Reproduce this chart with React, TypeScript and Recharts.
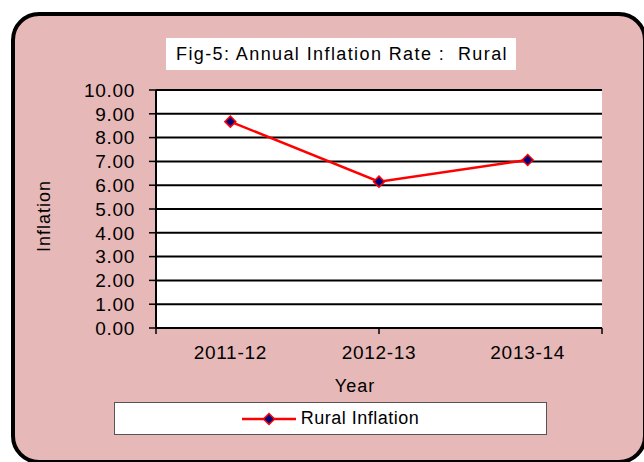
import React from 'react'
import {
  LineChart,
  Line,
  XAxis,
  YAxis,
  CartesianGrid,
  Legend,
  ReferenceLine,
} from 'recharts'

// chart values
const categories = ['2011-12', '2012-13', '2013-14']
const ruralInflation = [8.67, 6.15, 7.06]
const yTicks = [0, 1, 2, 3, 4, 5, 6, 7, 8, 9, 10]
const edgeTicks = [0, 1, 2, 3]

const data = categories.map((year, i) => ({ year, rural: ruralInflation[i] }))

const FONT = '"Liberation Sans", Arial, sans-serif'
const PINK = '#E6B8B7'

// diamond marker like excel
function Diamond(props: any) {
  const { cx, cy } = props
  if (cx == null || cy == null) return null
  const r = 5.5
  return (
    <polygon
      points={`${cx},${cy - r} ${cx + r},${cy} ${cx},${cy + r} ${cx - r},${cy}`}
      fill="#000080"
      stroke="#FF0000"
      strokeWidth={1.5}
    />
  )
}

function LegendBox() {
  return (
    <div
      style={{
        width: '100%',
        height: '100%',
        boxSizing: 'border-box',
        background: '#fff',
        border: '1px solid #555',
        display: 'flex',
        alignItems: 'center',
        justifyContent: 'center',
        fontFamily: FONT,
        fontSize: 18,
        letterSpacing: 0.5,
        color: '#000',
      }}
    >
      <svg width={54} height={14} style={{ marginRight: 5 }}>
        <line x1={0} y1={7} x2={54} y2={7} stroke="#FF0000" strokeWidth={2.5} />
        <Diamond cx={27} cy={7} />
      </svg>
      <span>Rural Inflation</span>
    </div>
  )
}

const tickStyle = { fill: '#000', fontSize: 19, fontFamily: FONT, letterSpacing: 0.7 }

export default function App() {
  return (
    <div style={{ position: 'absolute', left: 0, top: 0, width: 644, height: 462, background: '#fff', overflow: 'hidden' }}>
      <div
        style={{
          position: 'absolute',
          left: 11,
          top: 12,
          width: 636,
          height: 452,
          boxSizing: 'border-box',
          border: '4px solid #000',
          borderRadius: 28,
          background: PINK,
        }}
      />
      <div
        style={{
          position: 'absolute',
          left: 166,
          top: 38,
          width: 350,
          height: 32,
          background: '#fff',
          fontFamily: FONT,
          fontSize: 18,
          letterSpacing: 1.4,
          lineHeight: '32px',
          paddingLeft: 10,
          boxSizing: 'border-box',
          color: '#000',
          whiteSpace: 'nowrap',
        }}
      >
        Fig-5: Annual Inflation Rate :&nbsp; Rural
      </div>
      <div style={{ position: 'absolute', left: 0, top: 0 }}>
        <LineChart width={644} height={462} data={data} margin={{ top: 90, right: 42, bottom: 103, left: 36 }}>
          <CartesianGrid xAxisId="year" horizontal vertical={false} stroke="#000" strokeWidth={2} fill="#fff" fillOpacity={1} />
          {/* only used for the tick marks between categories */}
          <XAxis
            xAxisId="edges"
            type="number"
            domain={[0, 3]}
            ticks={edgeTicks}
            interval={0}
            height={1}
            axisLine={false}
            tickLine={{ stroke: '#000', strokeWidth: 1.5 }}
            tickSize={6}
            tickFormatter={() => ' '}
          />
          <XAxis
            xAxisId="year"
            dataKey="year"
            scale="band"
            height={30}
            axisLine={false}
            tickLine={false}
            tickSize={0}
            tickMargin={17}
            tick={tickStyle}
            label={{
              content: (p: any) => (
                <text
                  x={p.viewBox.x + p.viewBox.width / 2 - 24}
                  y={p.viewBox.y + 63}
                  textAnchor="middle"
                  fill="#000"
                  fontSize={18}
                  fontFamily={FONT}
                  letterSpacing={1}
                >
                  Year
                </text>
              ),
            }}
          />
          <YAxis
            width={120}
            domain={[0, 10]}
            ticks={yTicks}
            interval={0}
            tickFormatter={(v) => Number(v).toFixed(2)}
            axisLine={{ stroke: '#000', strokeWidth: 2 }}
            tickLine={{ stroke: '#000', strokeWidth: 1.5 }}
            tickSize={7}
            tickMargin={14}
            tick={tickStyle}
            label={{
              content: (p: any) => {
                const x = p.viewBox.x + 8
                const y = p.viewBox.y + p.viewBox.height / 2 + 7
                return (
                  <text
                    x={x}
                    y={y}
                    transform={`rotate(-90 ${x} ${y})`}
                    textAnchor="middle"
                    dominantBaseline="central"
                    fill="#000"
                    fontSize={18}
                    fontFamily={FONT}
                    letterSpacing={1}
                  >
                    Inflation
                  </text>
                )
              },
            }}
          />
          <ReferenceLine xAxisId="edges" x={3} stroke="#000" strokeWidth={2} />
          <Legend
            layout="horizontal"
            verticalAlign="middle"
            align="center"
            wrapperStyle={{ left: 114, top: 402, width: 433, height: 33 }}
            content={() => <LegendBox />}
          />
          <Line
            xAxisId="year"
            dataKey="rural"
            name="Rural Inflation"
            stroke="#FF0000"
            strokeWidth={2.5}
            dot={<Diamond />}
            activeDot={false}
            isAnimationActive={false}
          />
        </LineChart>
      </div>
    </div>
  )
}
